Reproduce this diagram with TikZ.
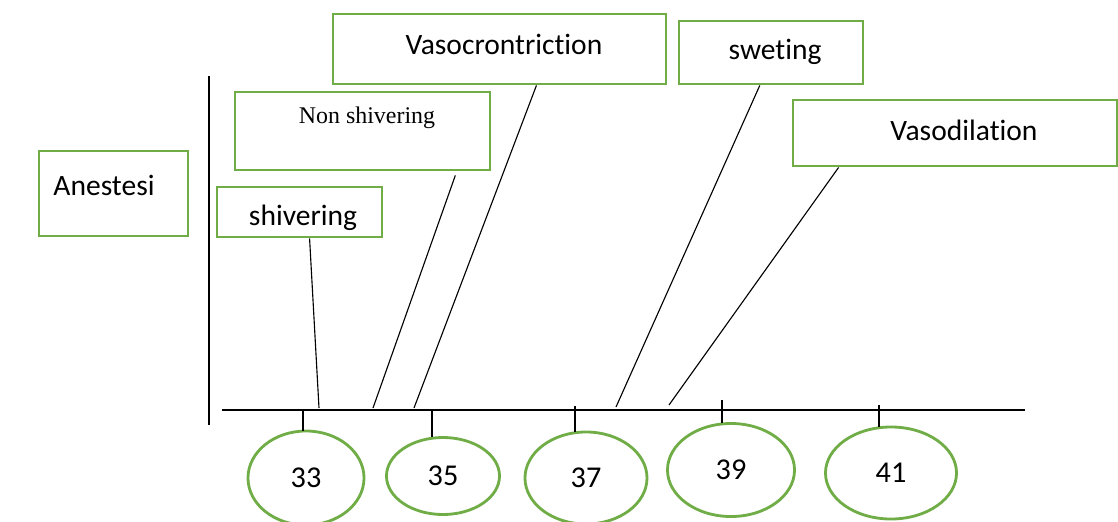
\documentclass[tikz,border=0pt]{standalone}
\usepackage{fontspec}
\setmainfont{Carlito}[Ligatures=NoCommon]
\newfontfamily\serifface{Liberation Serif}
\usetikzlibrary{shapes.geometric,calc}
\definecolor{boxgreen}{HTML}{70AD47}
\tikzset{
  box/.style={draw=boxgreen, line width=2pt, inner sep=0pt},
  tempnode/.style={ellipse, draw=boxgreen, line width=2pt, inner sep=0pt, font=\fontsize{21.5}{25}\selectfont},
  txt/.style={font=\fontsize{21}{25}\selectfont, inner sep=0pt},
  link/.style={line width=0.8pt},
  axis/.style={line width=1pt}
}
\begin{document}
\begin{tikzpicture}[x=0.025cm, y=-0.025cm]
\useasboundingbox (0,0) rectangle (1118,521);

% boxes
\node[box, minimum width=3.725cm, minimum height=2.125cm] (anest) at (113.5,193.5) {};
\node[box, minimum width=4.125cm, minimum height=1.25cm] (shiv) at (299.5,212) {};
\node[box, minimum width=6.375cm, minimum height=1.95cm] (nonshiv) at (362.5,131) {};
\node[box, minimum width=8.325cm, minimum height=1.75cm] (vasoc) at (499.5,49) {};
\node[box, minimum width=4.6cm, minimum height=1.575cm] (swet) at (771,52.5) {};
\node[box, minimum width=8.1cm, minimum height=1.65cm] (vasod) at (955,133) {};

\node[txt] (anestT) at (104,185) {Anestesi};
\node[txt] (shivT) at (303,218) {shivering};
\node[txt, font=\serifface\fontsize{17}{20}\selectfont] (nonshivT) at (367,118) {Non shivering};
\node[txt] (vasocT) at (504,44) {Vasocrontriction};
\node[txt] (swetT) at (775,52) {sweting};
\node[txt] (vasodT) at (964,130) {Vasodilation};

% axes
\coordinate (ya) at (209,76);
\coordinate (yb) at (209,425);
\coordinate (xa) at (222,410);
\coordinate (xb) at (1025,410);
\draw[axis] (ya) -- (yb);
\draw[axis] (xa) -- (xb);

% temperatures
\node[tempnode, minimum width=2.9cm, minimum height=2.35cm] (e33) at (306,478) {33};
\node[tempnode, minimum width=2.825cm, minimum height=1.925cm] (e35) at (443,476) {35};
\node[tempnode, minimum width=3.05cm, minimum height=2.3cm] (e37) at (586,478) {37};
\node[tempnode, minimum width=3.175cm, minimum height=2.325cm] (e39) at (731,470) {39};
\node[tempnode, minimum width=3.275cm, minimum height=2.3cm] (e41) at (891,473) {41};

\foreach \n/\dx/\h in {33/-3/21,35/-11/27,37/-11/26,39/-9/23,41/-12/22}
  \draw[axis] ($(e\n.north)+(\dx,1)$) -- ++(0,-\h);

% connectors
\coordinate (a33) at (319,408);
\coordinate (a34) at (373,408);
\coordinate (a35) at (414,408);
\coordinate (a38) at (616,407);
\coordinate (a39) at (669,405);
\draw[link] ($(shiv.south west)!0.56!(shiv.south east)$) -- (a33);
\draw[link] ($(nonshiv.south west)!0.86!(nonshiv.south east)+(0,4)$) -- (a34);
\draw[link] ($(vasoc.south west)!0.61!(vasoc.south east)$) -- (a35);
\draw[link] ($(swet.south west)!0.44!(swet.south east)$) -- (a38);
\draw[link] ($(vasod.south west)!0.144!(vasod.south east)$) -- (a39);
\end{tikzpicture}
\end{document}
